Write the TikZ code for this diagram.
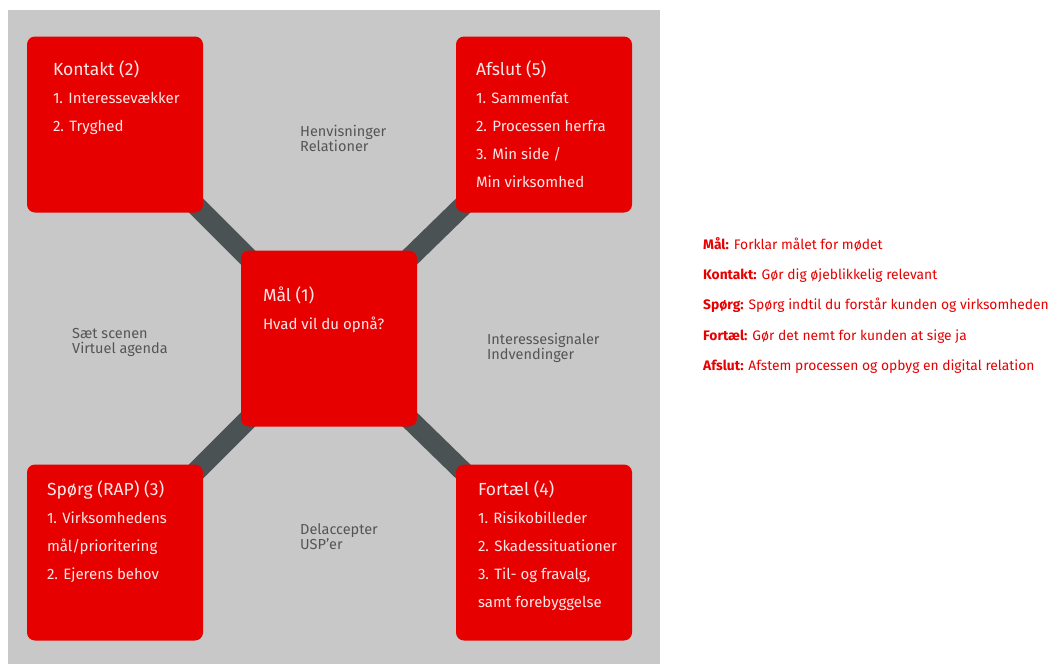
\documentclass[tikz,border=0pt]{standalone}
\usepackage{fontspec}
\setmainfont{Fira Sans}
\usetikzlibrary{backgrounds}
\definecolor{vfred}{HTML}{E60000}
\definecolor{bggray}{HTML}{C8C8C8}
\definecolor{bargray}{HTML}{4B5254}
\definecolor{notegray}{HTML}{555555}
\definecolor{boxtext}{HTML}{FFE6E6}

\begin{document}
\begin{tikzpicture}[x=1pt,y=-1pt,
    stage/.style={fill=vfred,rounded corners=8pt,minimum width=176pt,minimum height=176pt,inner sep=0pt},
    stagetext/.style={anchor=north west,align=left,inner sep=0pt,text=boxtext,font=\fontsize{15}{28}\selectfont},
    bar/.style={draw=bargray,line width=20pt,shorten <=-14pt,shorten >=-14pt},
    note/.style={anchor=north west,align=left,inner sep=0pt,text=notegray,font=\fontsize{14.5}{15}\selectfont},
    legend/.style={anchor=base west,inner sep=0pt,text=vfred,font=\fontsize{13.8}{14}\selectfont}]
    \useasboundingbox (0,0) rectangle (1057,664);

    % Steps
    \node[stage] (kontakt) at (115,124.5) {};
    \node[stage] (afslut)  at (544,124.5) {};
    \node[stage] (maal)    at (329,338.5) {};
    \node[stage] (spoerg)  at (115,552.5) {};
    \node[stage] (fortael) at (544,552.5) {};

    % Step texts
    \node[stagetext] (kontakttxt) at ([xshift=26pt,yshift=-24pt]kontakt.north west)
        {{\fontsize{17.5}{28}\selectfont Kontakt (2)}\\1. Interessevækker\\2. Tryghed};
    \node[stagetext] (afsluttxt) at ([xshift=20pt,yshift=-24pt]afslut.north west)
        {{\fontsize{17.5}{28}\selectfont Afslut (5)}\\1. Sammenfat\\2. Processen herfra\\3. Min side /\\Min virksomhed};
    \node[stagetext] (maaltxt) at ([xshift=22pt,yshift=-36pt]maal.north west)
        {{\fontsize{17.5}{28}\selectfont Mål (1)}\\Hvad vil du opnå?};
    \node[stagetext] (spoergtxt) at ([xshift=20pt,yshift=-16pt]spoerg.north west)
        {{\fontsize{17.5}{28}\selectfont Spørg (RAP) (3)}\\1. Virksomhedens\\mål/prioritering\\2. Ejerens behov};
    \node[stagetext] (fortaeltxt) at ([xshift=22pt,yshift=-16pt]fortael.north west)
        {{\fontsize{17.5}{28}\selectfont Fortæl (4)}\\1. Risikobilleder\\2. Skadessituationer\\3. Til- og fravalg,\\samt forebyggelse};

    % Background and links
    \begin{scope}[on background layer]
        \fill[bggray] (8,10) rectangle (660,664);
        \draw[bar] (kontakt.south east) -- (maal.north west);
        \draw[bar] (afslut.south west) -- (maal.north east);
        \draw[bar] (spoerg.north east) -- (maal.south west);
        \draw[bar] (fortael.north west) -- (maal.south east);
    \end{scope}

    % Notes between the steps
    \node[note] (henvis)   at (300,125) {Henvisninger\\Relationer};
    \node[note] (scene)    at (72,328)  {Sæt scenen\\Virtuel agenda};
    \node[note] (signaler) at (487,333) {Interessesignaler\\Indvendinger};
    \node[note] (accept)   at (300,523) {Delaccepter\\USP'er};

    % Legend
    \node[legend] (legmaal)    at (703,249) {\textbf{Mål:} Forklar målet for mødet};
    \node[legend] (legkontakt) at (703,279) {\textbf{Kontakt:} Gør dig øjeblikkelig relevant};
    \node[legend] (legspoerg)  at (703,309) {\textbf{Spørg:} Spørg indtil du forstår kunden og virksomheden};
    \node[legend] (legfortael) at (703,340) {\textbf{Fortæl:} Gør det nemt for kunden at sige ja};
    \node[legend] (legafslut)  at (703,370) {\textbf{Afslut:} Afstem processen og opbyg en digital relation};
\end{tikzpicture}
\end{document}
